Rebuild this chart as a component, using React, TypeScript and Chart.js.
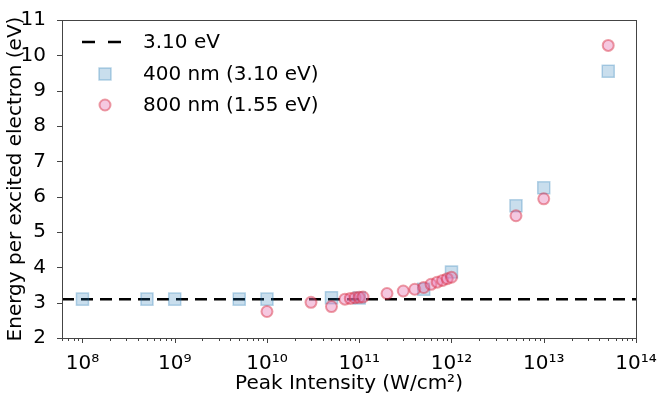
import { useEffect, useRef } from "react"
import { Chart, registerables } from "chart.js"

Chart.register(...registerables)

// 400 nm (3.10 eV) data
const intensity400 = [1e8, 5e8, 1e9, 5e9, 1e10, 5e10, 1e11, 5e11, 1e12, 5e12, 1e13, 5e13]
const energy400 = [3.1, 3.1, 3.1, 3.1, 3.1, 3.14, 3.13, 3.38, 3.87, 5.74, 6.25, 9.55]

// 800 nm (1.55 eV) data
const intensity800 = [
  1e10, 3e10, 5e10, 7e10, 8e10, 9e10, 1e11, 1.1e11, 2e11, 3e11, 4e11, 5e11, 6e11, 7e11, 8e11, 9e11, 1e12, 5e12,
  1e13, 5e13,
]
const energy800 = [
  2.75, 3.01, 2.89, 3.1, 3.12, 3.14, 3.15, 3.16, 3.26, 3.33, 3.38, 3.43, 3.52, 3.58, 3.63, 3.68, 3.72, 5.46, 5.94,
  10.28,
]

const photonEnergy = 3.1

const xMajorTicks = [1e8, 1e9, 1e10, 1e11, 1e12, 1e13, 1e14]
const xTickLabels = ["10⁸", "10⁹", "10¹⁰", "10¹¹", "10¹²", "10¹³", "10¹⁴"]
const yTicks = [2, 3, 4, 5, 6, 7, 8, 9, 10, 11]

const legendLabels = ["3.10 eV", "400 nm (3.10 eV)", "800 nm (1.55 eV)"]

const X_MIN = 6e7
const X_MAX = 1e14

const FONT = { family: "'DejaVu Sans', sans-serif", size: 20 }
const AXIS_COLOR = "#444"
const SQ_FILL = "rgba(31,119,180,0.24)"
const SQ_EDGE = "rgba(31,119,180,0.3)"
const CI_FILL = "rgba(230,117,177,0.4)"
const CI_EDGE = "rgba(214,39,60,0.45)"

// all tick positions on the log axis (majors + 2..9 minors)
const xAllTicks: number[] = []
for (let e = 7; e <= 14; e++) {
  for (let m = 1; m <= 9; m++) {
    const v = m * Math.pow(10, e)
    if (v >= X_MIN && v <= X_MAX * 1.0001) xAllTicks.push(v)
  }
}

const isMajor = (v: number) => xMajorTicks.some((t) => Math.abs(v / t - 1) < 1e-6)

const framePlugin = {
  id: "frame",
  afterDraw(chart: any) {
    const { ctx, chartArea: a, scales } = chart
    ctx.save()
    ctx.strokeStyle = AXIS_COLOR
    ctx.lineWidth = 1
    ctx.strokeRect(a.left + 0.5, a.top + 0.5, a.right - a.left, a.bottom - a.top)

    // x ticks
    for (const v of xAllTicks) {
      const px = Math.round(scales.x.getPixelForValue(v)) + 0.5
      const len = isMajor(v) ? 5 : 3
      ctx.beginPath()
      ctx.moveTo(px, a.bottom)
      ctx.lineTo(px, a.bottom + len)
      ctx.stroke()
    }
    // y ticks
    for (const v of yTicks) {
      const py = Math.round(scales.y.getPixelForValue(v)) + 0.5
      ctx.beginPath()
      ctx.moveTo(a.left, py)
      ctx.lineTo(a.left - 5, py)
      ctx.stroke()
    }

    // legend
    ctx.font = `${FONT.size}px ${FONT.family}`
    ctx.fillStyle = "#000"
    ctx.textBaseline = "middle"
    ctx.textAlign = "left"
    const textX = 143
    const rows = [42, 74, 105]

    ctx.strokeStyle = "#000"
    ctx.lineWidth = 2.5
    ctx.setLineDash([13, 13])
    ctx.beginPath()
    ctx.moveTo(82, rows[0])
    ctx.lineTo(122, rows[0])
    ctx.stroke()
    ctx.setLineDash([])
    ctx.fillText(legendLabels[0], textX, rows[0] + 1)

    ctx.fillStyle = SQ_FILL
    ctx.fillRect(99, rows[1] - 6, 12, 12)
    ctx.strokeStyle = SQ_EDGE
    ctx.lineWidth = 1.5
    ctx.strokeRect(99, rows[1] - 6, 12, 12)
    ctx.fillStyle = "#000"
    ctx.fillText(legendLabels[1], textX, rows[1] + 1)

    ctx.beginPath()
    ctx.arc(105, rows[2], 5.5, 0, Math.PI * 2)
    ctx.fillStyle = CI_FILL
    ctx.fill()
    ctx.strokeStyle = CI_EDGE
    ctx.lineWidth = 2
    ctx.stroke()
    ctx.fillStyle = "#000"
    ctx.fillText(legendLabels[2], textX, rows[2] + 1)

    ctx.restore()
  },
}

export default function App() {
  const chartRef = useRef<HTMLCanvasElement>(null)
  const chartInstance = useRef<Chart | null>(null)

  useEffect(() => {
    document.body.style.margin = "0"
    if (!chartRef.current) return
    if (chartInstance.current) chartInstance.current.destroy()
    const ctx = chartRef.current.getContext("2d")
    if (!ctx) return

    chartInstance.current = new Chart(ctx, {
      type: "scatter",
      data: {
        datasets: [
          {
            type: "line",
            label: legendLabels[0],
            data: [
              { x: X_MIN, y: photonEnergy },
              { x: X_MAX, y: photonEnergy },
            ],
            borderColor: "#000",
            borderWidth: 2.5,
            borderDash: [12, 7],
            pointRadius: 0,
            order: 3,
          },
          {
            label: legendLabels[1],
            data: intensity400.map((x, i) => ({ x, y: energy400[i] })),
            pointStyle: "rect",
            pointRadius: 8.5,
            backgroundColor: SQ_FILL,
            borderColor: SQ_EDGE,
            borderWidth: 1.5,
            order: 2,
          },
          {
            label: legendLabels[2],
            data: intensity800.map((x, i) => ({ x, y: energy800[i] })),
            pointStyle: "circle",
            pointRadius: 5.5,
            backgroundColor: CI_FILL,
            borderColor: CI_EDGE,
            borderWidth: 2,
            order: 1,
          },
        ],
      },
      options: {
        animation: false,
        responsive: true,
        maintainAspectRatio: false,
        layout: { padding: { top: 14, right: 29, left: 0, bottom: 0 } },
        plugins: {
          legend: { display: false },
          tooltip: { enabled: false },
        },
        scales: {
          x: {
            type: "logarithmic",
            min: X_MIN,
            max: X_MAX,
            afterBuildTicks: (scale: any) => {
              scale.ticks = xAllTicks.map((v) => ({ value: v, major: isMajor(v) }))
            },
            afterFit: (scale: any) => {
              scale.height = 62
            },
            grid: { display: false },
            border: { display: false },
            ticks: {
              autoSkip: false,
              maxRotation: 0,
              padding: 6,
              color: "#000",
              font: FONT,
              callback: (value: any) => {
                const idx = xMajorTicks.findIndex((t) => Math.abs(Number(value) / t - 1) < 1e-6)
                return idx >= 0 ? xTickLabels[idx] : ""
              },
            },
            title: {
              display: true,
              text: "Peak Intensity (W/cm²)",
              color: "#000",
              font: FONT,
              padding: { top: 0, bottom: 4 },
            },
          },
          y: {
            min: 2,
            max: 11,
            afterBuildTicks: (scale: any) => {
              scale.ticks = yTicks.map((v) => ({ value: v }))
            },
            afterFit: (scale: any) => {
              scale.width = 62
            },
            grid: { display: false },
            border: { display: false },
            ticks: {
              padding: 8,
              color: "#000",
              font: FONT,
            },
            title: {
              display: true,
              text: "Energy per excited electron (eV)",
              color: "#000",
              font: FONT,
              padding: { top: 4, bottom: 0 },
            },
          },
        },
      },
      plugins: [framePlugin],
    } as any)

    return () => {
      if (chartInstance.current) {
        chartInstance.current.destroy()
        chartInstance.current = null
      }
    }
  }, [])

  return (
    <div style={{ position: "relative", width: 665, height: 400 }}>
      <canvas ref={chartRef} />
    </div>
  )
}
